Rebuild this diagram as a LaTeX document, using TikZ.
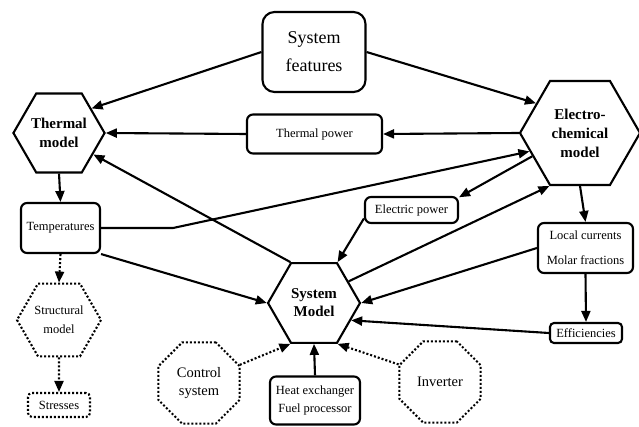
\documentclass[tikz,border=0pt]{standalone}
\usepackage{fontspec}
\setmainfont{Liberation Serif}
\usetikzlibrary{shapes.geometric,arrows.meta}

\begin{document}
\begin{tikzpicture}[x=1pt,y=-1pt,
	box/.style={draw,line width=2.1pt,rounded corners=6pt,inner sep=0pt,align=center,font=\fontsize{12.5}{18}\selectfont},
	hexa/.style={draw,line width=2.1pt,regular polygon,regular polygon sides=6,inner sep=0pt,align=center,font=\fontsize{15}{19}\selectfont\bfseries},
	octa/.style={draw,line width=2.1pt,dash pattern=on 2pt off 2pt,regular polygon,regular polygon sides=8,minimum size=88pt,inner sep=0pt,align=center,font=\fontsize{14.5}{18}\selectfont},
	arr/.style={line width=2.1pt,-{Triangle[length=11pt,width=9pt]}},
	dotarr/.style={arr,dash pattern=on 2pt off 2pt}
]
			\useasboundingbox (0,0) rectangle (639,427);

			% top and models
			\node[box,rounded corners=12pt,minimum width=103pt,minimum height=80pt,font=\fontsize{18}{28}\selectfont] (sf) at (314,52) {System\\features};
			\node[hexa,minimum size=90pt] (thermal) at (59,133) {Thermal\\model};
			\node[hexa,minimum size=120pt] (electro) at (580,133) {Electro-\\chemical\\model};
			\node[hexa,minimum size=92pt,font=\fontsize{15}{18}\selectfont\bfseries] (sysmodel) at (314,303) {System\\Model};
			\node[box,minimum width=135pt,minimum height=39pt] (tpower) at (314.5,134) {Thermal power};

			% left column
			\node[box,minimum width=79pt,minimum height=50pt] (temps) at (60.5,228) {Temperatures};
			\node[hexa,minimum size=84pt,dash pattern=on 2pt off 2pt,font=\fontsize{12.5}{19}\selectfont] (struct) at (59,320) {Structural\\model};
			\node[box,dash pattern=on 2pt off 2pt,minimum width=62pt,minimum height=24pt,rounded corners=4pt] (stresses) at (59,405) {Stresses};

			% right column
			\node[box,minimum width=93pt,minimum height=26pt] (epower) at (411.5,210) {Electric power};
			\node[box,minimum width=95pt,minimum height=50pt,font=\fontsize{12.5}{25}\selectfont] (local) at (585.5,248) {Local currents\\Molar fractions};
			\node[box,minimum width=72pt,minimum height=20pt,rounded corners=4pt] (eff) at (586,333) {Efficiencies};

			% bottom row
			\node[octa] (control) at (199,383) {Control\\system};
			\node[box,minimum width=90pt,minimum height=48pt] (heat) at (315,400.5) {Heat exchanger\\Fuel processor};
			\node[octa] (inverter) at (440,382) {Inverter};

			\draw[arr] (sf.west) -- (thermal.37);
			\draw[arr] (sf.east) -- (electro.146);
			\draw[arr] (electro.west) -- (tpower.east);
			\draw[arr] (tpower.west) -- (thermal.east);
			\draw[arr] (thermal.south) -- (temps.north);
			\draw[arr] (temps.east) -- ++(72,0) -- (electro.200);
			\draw[arr] (temps.south east) -- (sysmodel.west);
			\draw[arr] (sysmodel.120) -- (thermal.-32);
			\draw[arr] (electro.206) -- (epower.15);
			\draw[arr] (sysmodel.32) -- (electro.240);
			\draw[arr] (epower.190) -- (sysmodel.60);
			\draw[arr] (electro.south) -- (local.north);
			\draw[arr] (local.west) -- (sysmodel.east);
			\draw[arr] (local.south) -- (eff.north);
			\draw[arr] (eff.west) -- (sysmodel.-25);
			\draw[arr] (heat.north) -- (sysmodel.south);
			\draw[dotarr] (control.24) -- (sysmodel.240);
			\draw[dotarr] (inverter.157) -- (sysmodel.300);
			\draw[dotarr] (temps.south) -- (struct.north);
			\draw[dotarr] (struct.south) -- (stresses.north);
\end{tikzpicture}
\end{document}
